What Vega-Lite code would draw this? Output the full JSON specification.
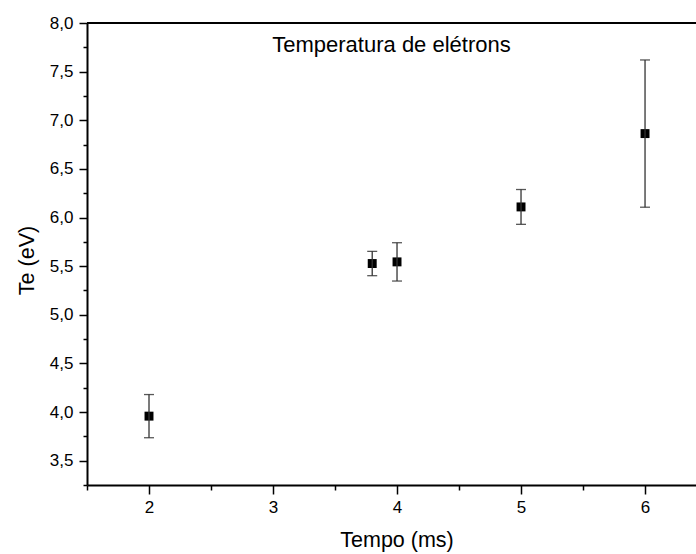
{
  "$schema": "https://vega.github.io/schema/vega-lite/v6.json",
  "width": 609,
  "height": 462,
  "autosize": "none",
  "padding": {"left": 87, "top": 23, "right": 0, "bottom": 69},
  "background": "white",
  "config": {"view": {"stroke": null}, "font": "Liberation Sans"},
  "title": {"text": "Temperatura de elétrons", "fontSize": 22, "fontWeight": "normal", "color": "black", "anchor": "middle", "baseline": "middle", "offset": -53, "frame": "group"},
  "data": {"values": [
    {"t": 2.0, "te": 3.958, "err": 0.222},
    {"t": 3.8, "te": 5.527, "err": 0.125},
    {"t": 4.0, "te": 5.544, "err": 0.197},
    {"t": 5.0, "te": 6.109, "err": 0.179},
    {"t": 6.0, "te": 6.863, "err": 0.757}
  ]},
  "layer": [
    {
      "mark": {"type": "point", "shape": "square", "filled": true, "color": "black", "size": 80, "opacity": 1},
      "encoding": {
        "x": {"field": "t", "type": "quantitative", "title": "Tempo (ms)",
          "scale": {"domain": [1.5, 6.411], "nice": false, "zero": false},
          "axis": {
            "values": [1.5, 2, 2.5, 3, 3.5, 4, 4.5, 5, 5.5, 6],
            "tickCount": 100,
            "labelExpr": "datum.value == round(datum.value) ? format(datum.value, 'd') : ''",
            "tickSize": {"condition": {"test": "datum.value == round(datum.value)", "value": 9}, "value": 5},
            "grid": false, "domainColor": "black", "domainWidth": 2, "tickColor": "black", "tickWidth": 1.5,
            "labelFontSize": 17, "labelColor": "black", "labelPadding": 5, "labelFlush": false, "labelOverlap": false,
            "titleFontSize": 21.5, "titleFontWeight": "normal", "titleColor": "black",
            "titleX": 309.5, "titleY": 55, "titleBaseline": "middle", "titleAlign": "center"
          }
        },
        "y": {"field": "te", "type": "quantitative", "title": "Te (eV)",
          "scale": {"domain": [3.25, 8.0], "nice": false, "zero": false},
          "axis": {
            "values": [3.25, 3.5, 3.75, 4, 4.25, 4.5, 4.75, 5, 5.25, 5.5, 5.75, 6, 6.25, 6.5, 6.75, 7, 7.25, 7.5, 7.75, 8],
            "tickCount": 100,
            "labelExpr": "datum.value * 2 == round(datum.value * 2) ? replace(format(datum.value, '.1f'), '.', ',') : ''",
            "tickSize": {"condition": {"test": "datum.value * 2 == round(datum.value * 2)", "value": 8}, "value": 4},
            "grid": false, "domainColor": "black", "domainWidth": 2, "tickColor": "black", "tickWidth": 1.5,
            "labelFontSize": 17, "labelColor": "black", "labelPadding": 6, "labelFlush": false, "labelOverlap": false,
            "titleFontSize": 21.5, "titleFontWeight": "normal", "titleColor": "black",
            "titleX": -60, "titleY": 237, "titleBaseline": "middle", "titleAlign": "center", "titleAngle": -90
          }
        }
      }
    },
    {
      "mark": {"type": "errorbar", "ticks": {"size": 10, "color": "#111", "thickness": 1.3}, "rule": {"color": "#333", "strokeWidth": 1.3}},
      "encoding": {
        "x": {"field": "t", "type": "quantitative", "title": "Tempo (ms)"},
        "y": {"field": "te", "type": "quantitative", "title": "Te (eV)"},
        "yError": {"field": "err"}
      }
    },
    {
      "data": {"values": [{"top": 8}]},
      "mark": {"type": "rule", "color": "black", "strokeWidth": 2},
      "encoding": {"y": {"field": "top", "type": "quantitative", "title": "Te (eV)"}}
    }
  ]
}
